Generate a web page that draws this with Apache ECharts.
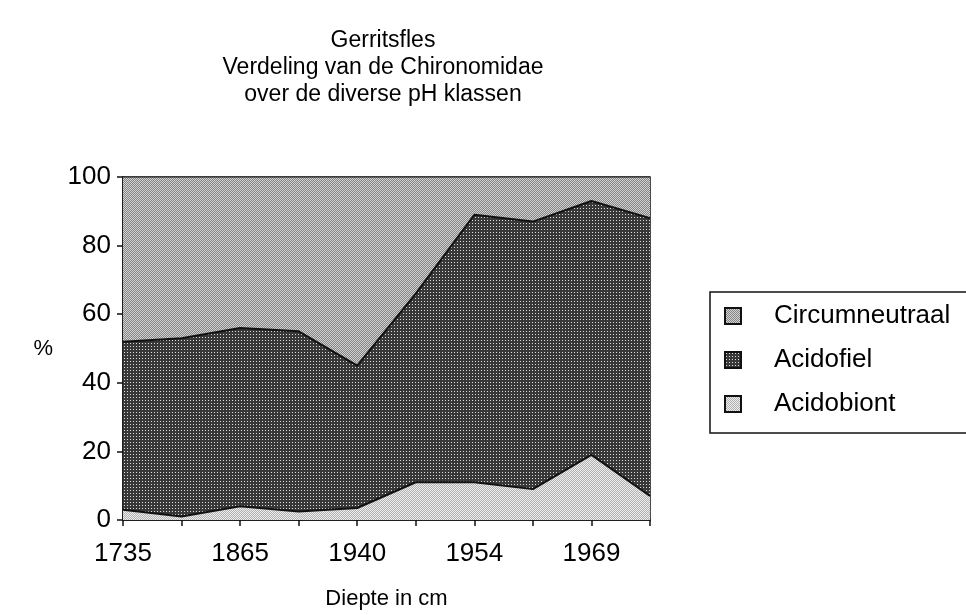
<!DOCTYPE html>
<html>
<head>
<meta charset="utf-8">
<script src="https://cdn.jsdelivr.net/npm/echarts@6/dist/echarts.min.js"></script>
<style>
html, body { margin: 0; padding: 0; background: #fff; }
#chart { width: 966px; height: 615px; }
</style>
</head>
<body>
<div id="chart"></div>
<script type="text/javascript">
// depth labels, only every other tick is labelled
var depths = ['1735', '', '1865', '', '1940', '', '1954', '', '1969', ''];
var acidobiont = [3, 1, 4, 2.5, 3.5, 11, 11, 9, 19, 7];
var acidofiel = [49, 52, 52, 52.5, 41.5, 55, 78, 78, 74, 81];
var circumneutraal = [48, 47, 44, 45, 55, 34, 11, 13, 7, 12];
var yTicks = [0, 20, 40, 60, 80, 100];

// small dot patterns like the old print
function makePattern(size, bg, fg, cells) {
    var c = document.createElement('canvas');
    c.width = size; c.height = size;
    var ctx = c.getContext('2d');
    ctx.fillStyle = bg;
    ctx.fillRect(0, 0, size, size);
    ctx.fillStyle = fg;
    cells.forEach(function (p) { ctx.fillRect(p[0], p[1], 1, 1); });
    return { image: c, repeat: 'repeat' };
}
var patCircum = makePattern(2, '#848484', '#d2d2d2', [[0, 0], [1, 1]]);
var patAcidofiel = makePattern(3, '#383838', '#dcdcdc', [[1, 1]]);
var patAcidobiont = makePattern(2, '#b2b2b2', '#ececec', [[0, 0], [1, 1]]);

var font = '"Liberation Sans", Arial, Helvetica, sans-serif';

var myChart = echarts.init(document.getElementById('chart'), null, { renderer: 'canvas' });
var option = {
    animation: false,
    backgroundColor: '#fff',
    title: {
        text: 'Gerritsfles\nVerdeling van de Chironomidae\nover de diverse pH klassen',
        left: 378,
        top: 22,
        textAlign: 'center',
        textStyle: { fontFamily: font, fontSize: 23, fontWeight: 'normal', color: '#000', lineHeight: 27 }
    },
    legend: {
        orient: 'vertical',
        left: 710,
        top: 292,
        padding: [10, 120, 15, 14],
        itemGap: 16,
        itemWidth: 16,
        itemHeight: 16,
        icon: 'rect',
        borderColor: '#111',
        borderWidth: 1.5,
        data: ['Circumneutraal', 'Acidofiel', 'Acidobiont'],
        textStyle: { fontFamily: font, fontSize: 26, lineHeight: 28, color: '#000', padding: [0, 0, 0, 28] }
    },
    grid: {
        left: 123,
        right: 316,
        top: 177,
        bottom: 81,
        show: true,
        borderColor: '#111',
        borderWidth: 1.5,
        backgroundColor: 'transparent'
    },
    xAxis: {
        type: 'category',
        data: depths,
        boundaryGap: false,
        name: 'Diepte in cm',
        nameLocation: 'middle',
        nameGap: 68,
        nameTextStyle: { fontFamily: font, fontSize: 22, color: '#000' },
        axisLine: { lineStyle: { color: '#111', width: 1.5 } },
        axisTick: { interval: 0, length: 6, lineStyle: { color: '#111', width: 1.5 } },
        axisLabel: { interval: 0, margin: 21, fontFamily: font, fontSize: 26, color: '#000' },
        splitLine: { show: false }
    },
    yAxis: {
        type: 'value',
        min: yTicks[0],
        max: yTicks[yTicks.length - 1],
        interval: 20,
        name: '%',
        nameLocation: 'middle',
        nameRotate: 0,
        nameGap: 70,
        nameTextStyle: { fontFamily: font, fontSize: 22, color: '#000' },
        axisLine: { show: true, lineStyle: { color: '#111', width: 1.5 } },
        axisTick: { show: true, inside: false, length: 6, lineStyle: { color: '#111', width: 1.5 } },
        axisLabel: { margin: 12, fontFamily: font, fontSize: 26, color: '#000' },
        splitLine: { show: false }
    },
    series: [
        {
            name: 'Acidobiont',
            type: 'line',
            stack: 'ph',
            data: acidobiont,
            symbol: 'none',
            lineStyle: { color: '#111', width: 2 },
            areaStyle: { color: patAcidobiont, opacity: 1 },
            itemStyle: { color: patAcidobiont, borderColor: '#111', borderWidth: 1.5 }
        },
        {
            name: 'Acidofiel',
            type: 'line',
            stack: 'ph',
            data: acidofiel,
            symbol: 'none',
            lineStyle: { color: '#111', width: 2 },
            areaStyle: { color: patAcidofiel, opacity: 1 },
            itemStyle: { color: patAcidofiel, borderColor: '#111', borderWidth: 1.5 }
        },
        {
            name: 'Circumneutraal',
            type: 'line',
            stack: 'ph',
            data: circumneutraal,
            symbol: 'none',
            lineStyle: { color: '#111', width: 1 },
            areaStyle: { color: patCircum, opacity: 1 },
            itemStyle: { color: patCircum, borderColor: '#111', borderWidth: 1.5 }
        }
    ]
};
myChart.setOption(option);
</script>
</body>
</html>
